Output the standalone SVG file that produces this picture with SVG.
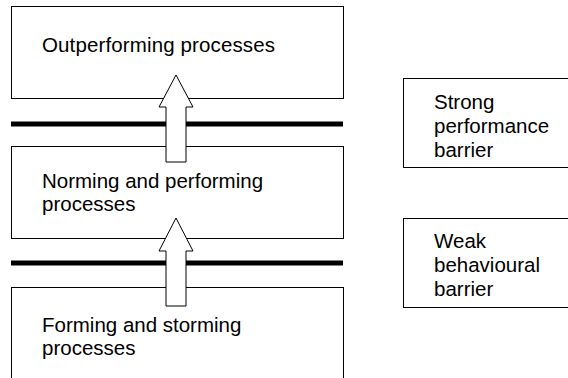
<svg xmlns="http://www.w3.org/2000/svg" width="568" height="378" viewBox="0 0 568 378">
<style>
.box{fill:#fff;stroke:#000;stroke-width:1}
.bar{stroke:#000;stroke-width:5}
.arr{fill:#fff;stroke:#000;stroke-width:1;stroke-linejoin:miter}
text{font-family:"Liberation Sans",Arial,sans-serif;font-size:20.5px;fill:#000}
</style>
<rect width="568" height="378" fill="#fff"/>
<g id="outperforming">
<rect class="box" x="11.5" y="6.5" width="332" height="92"/>
<text x="42" y="52" textLength="233" lengthAdjust="spacing">Outperforming processes</text>
</g>
<g id="norming">
<rect class="box" x="11.5" y="146.5" width="332" height="92"/>
<text x="42" y="188">Norming and performing</text>
<text x="42" y="211">processes</text>
</g>
<g id="forming">
<rect class="box" x="11.5" y="287.5" width="332" height="120"/>
<text x="42" y="332">Forming and storming</text>
<text x="42" y="355">processes</text>
</g>
<g id="strong-barrier">
<rect class="box" x="403.5" y="78.5" width="200" height="89"/>
<text x="434" y="109">Strong</text>
<text x="434" y="133">performance</text>
<text x="434" y="157">barrier</text>
</g>
<g id="weak-barrier">
<rect class="box" x="403.5" y="218.5" width="200" height="89"/>
<text x="434" y="248">Weak</text>
<text x="434" y="272">behavioural</text>
<text x="434" y="296">barrier</text>
</g>
<g id="connectors">
<line class="bar" x1="11" y1="124" x2="343" y2="124"/>
<line class="bar" x1="11" y1="263" x2="343" y2="263"/>
<polygon class="arr" points="176,75 193,107 186,107 186,162 166,162 166,107 159,107"/>
<polygon class="arr" points="176,218 193,251 186,251 186,306 166,306 166,251 159,251"/>
</g>
</svg>
